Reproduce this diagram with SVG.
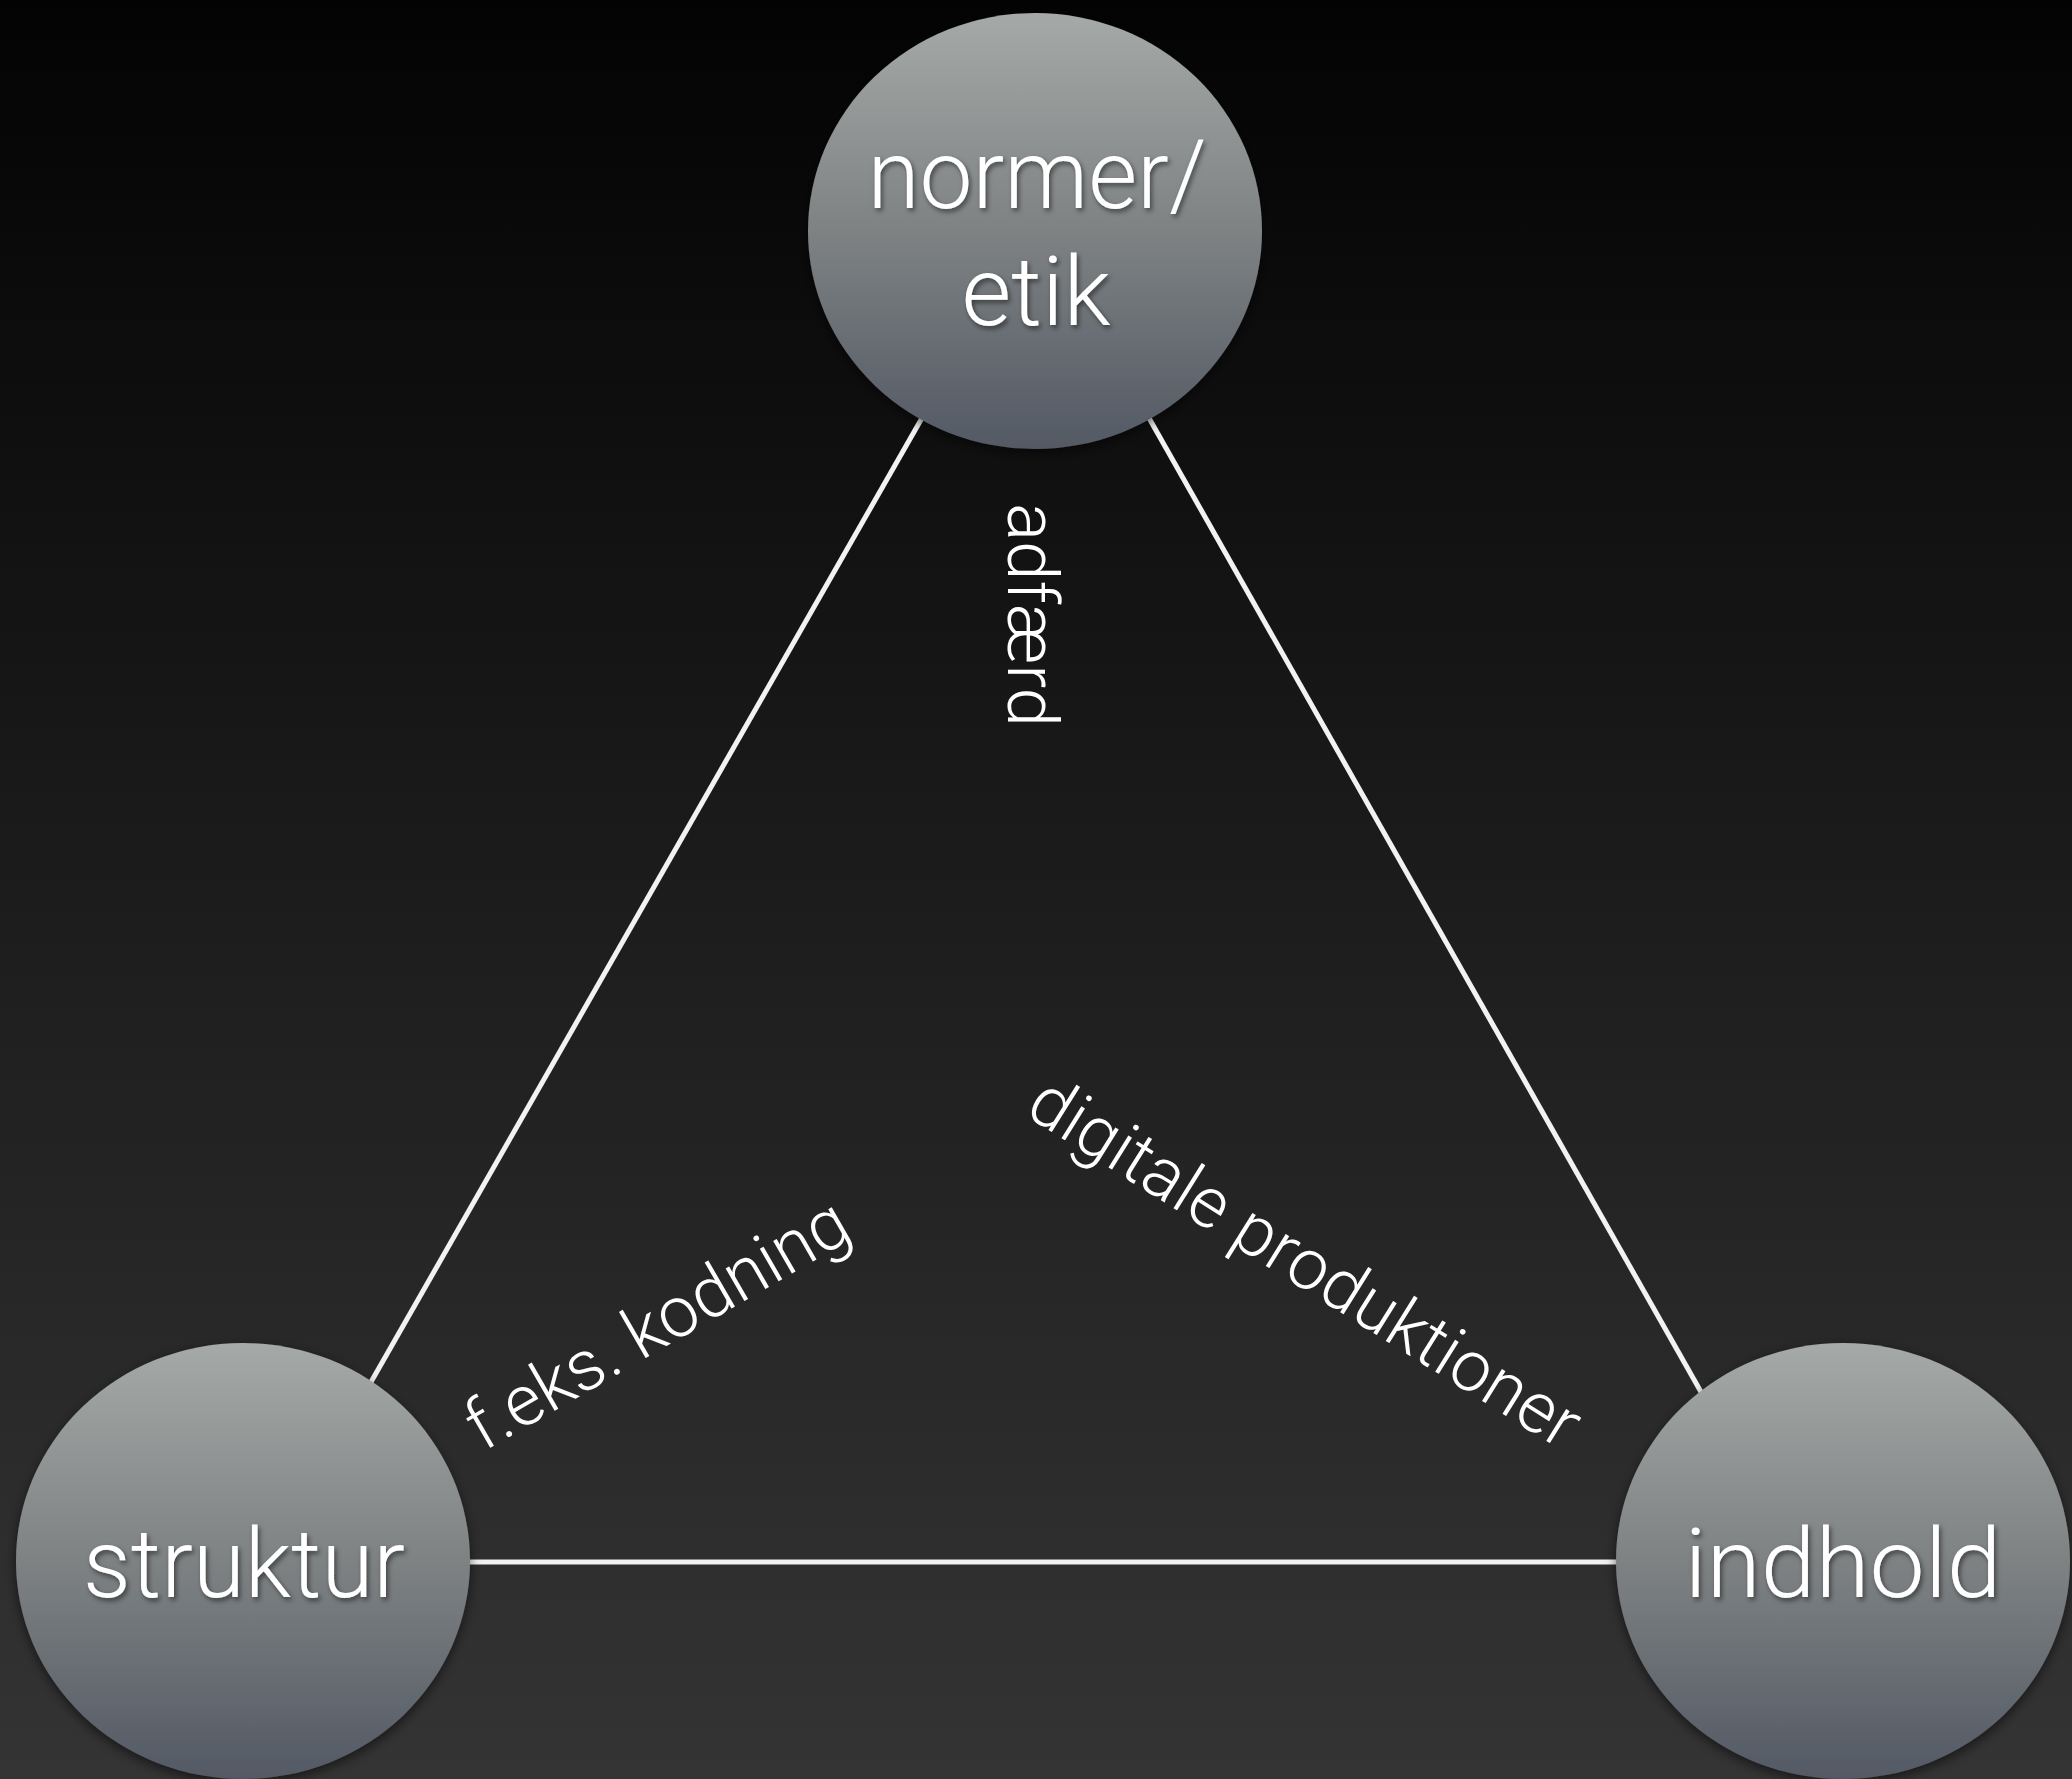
<svg xmlns="http://www.w3.org/2000/svg" width="2072" height="1779" viewBox="0 0 2072 1779">
  <defs>
    <linearGradient id="bg" x1="0" y1="0" x2="0" y2="1">
      <stop offset="0" stop-color="#030303"/>
      <stop offset="0.5" stop-color="#1c1c1c"/>
      <stop offset="1" stop-color="#343434"/>
    </linearGradient>
    <linearGradient id="ball" x1="0" y1="0" x2="0" y2="1">
      <stop offset="0" stop-color="#a5a9a7"/>
      <stop offset="0.5" stop-color="#7e8283"/>
      <stop offset="1" stop-color="#535964"/>
    </linearGradient>
    <filter id="ballShadow" x="-20%" y="-20%" width="140%" height="140%">
      <feDropShadow dx="0" dy="4" stdDeviation="6" flood-color="#000" flood-opacity="0.55"/>
    </filter>
    <filter id="txtShadow" x="-10%" y="-20%" width="120%" height="140%">
      <feDropShadow dx="2" dy="3" stdDeviation="2.5" flood-color="#000" flood-opacity="0.5"/>
    </filter>
  </defs>
  <style>
    .node ellipse { fill: url(#ball); filter: url(#ballShadow); }
    .nlabel { font-family: Roboto, "Liberation Sans", Arial, sans-serif; font-weight: 300; font-size: 96px; fill: #ffffff; text-anchor: middle; filter: url(#txtShadow); }
    .elabel { font-family: Roboto, "Liberation Sans", Arial, sans-serif; font-weight: 300; font-size: 71px; fill: #ffffff; }
    .edge { stroke: #f2f2f2; stroke-width: 5; fill: none; }
  </style>
  <rect x="0" y="0" width="2072" height="1779" fill="url(#bg)"/>

  <g id="connectors">
    <line class="edge" x1="926" y1="411" x2="367" y2="1389"/>
    <line class="edge" x1="1145" y1="411" x2="1705" y2="1399"/>
    <line class="edge" x1="450" y1="1562" x2="1640" y2="1562"/>
  </g>

  <g id="edge-labels">
    <text class="elabel" transform="translate(1008,503) rotate(90)" x="0" y="0">adfærd</text>
    <text class="elabel" transform="translate(483,1452) rotate(-30)" x="0" y="0">f.eks. kodning</text>
    <text class="elabel" transform="translate(1023,1114) rotate(32)" x="0" y="0">digitale produktioner</text>
  </g>

  <g id="node-normer">
    <g class="node"><ellipse cx="1035" cy="231" rx="227" ry="218"/></g>
    <text class="nlabel" x="1037" y="208" textLength="339" lengthAdjust="spacingAndGlyphs">normer/</text>
    <text class="nlabel" x="1036" y="325">etik</text>
  </g>

  <g id="node-struktur">
    <g class="node"><ellipse cx="243" cy="1561" rx="227" ry="218"/></g>
    <text class="nlabel" x="244" y="1597" textLength="322" lengthAdjust="spacingAndGlyphs">struktur</text>
  </g>

  <g id="node-indhold">
    <g class="node"><ellipse cx="1843" cy="1561" rx="227" ry="218"/></g>
    <text class="nlabel" x="1843" y="1597" textLength="317" lengthAdjust="spacingAndGlyphs">indhold</text>
  </g>
</svg>
